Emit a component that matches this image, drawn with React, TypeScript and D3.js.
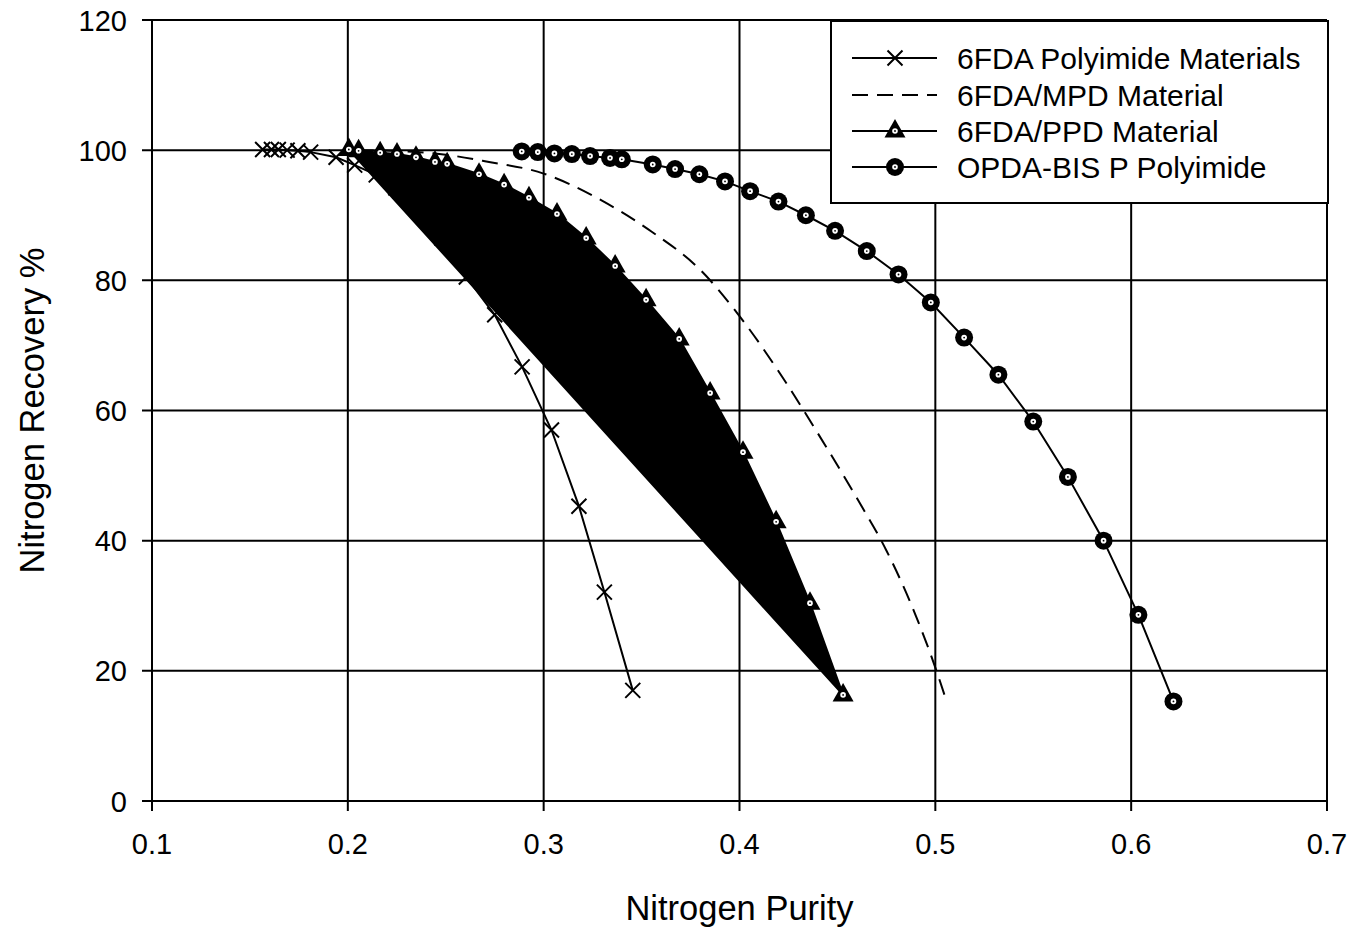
import React from 'react';
import * as d3 from 'd3';

// 6FDA Polyimide Materials (x markers)
const fdaPurity = [0.1565, 0.161, 0.1645, 0.169, 0.1745, 0.181, 0.194, 0.2035, 0.2145, 0.2245, 0.236, 0.248, 0.2605, 0.275, 0.289, 0.304, 0.318, 0.331, 0.3455];
const fdaRecovery = [100.1, 100.1, 100.1, 100, 99.9, 99.7, 98.9, 97.7, 96.2, 94.2, 91, 86.5, 80.5, 74.7, 66.7, 57, 45.3, 32.1, 17];

// 6FDA/MPD Material (dashed, no markers)
const mpdPurity = [0.205, 0.23, 0.25, 0.27, 0.3, 0.33, 0.355, 0.38, 0.4, 0.42, 0.44, 0.46, 0.475, 0.49, 0.5, 0.505];
const mpdRecovery = [100, 99.8, 99.3, 98.3, 96.4, 92.2, 87.5, 81.6, 74.5, 66, 56.5, 46.5, 38.5, 28.5, 20.5, 16];

// 6FDA/PPD Material (triangles, filled)
const ppdPurity = [0.2005, 0.2055, 0.2165, 0.2251, 0.2348, 0.2445, 0.2507, 0.267, 0.2798, 0.2925, 0.3068, 0.3217, 0.3365, 0.3523, 0.3692, 0.385, 0.4018, 0.4187, 0.436, 0.4529];
const ppdRecovery = [100.1, 99.9, 99.6, 99.4, 98.9, 98.2, 97.9, 96.3, 94.7, 92.7, 90.2, 86.5, 82.2, 77, 71, 62.7, 53.6, 42.9, 30.4, 16.3];

// OPDA-BIS P Polyimide (circles)
const opdaPurity = [0.2888, 0.297, 0.3055, 0.3144, 0.3237, 0.3339, 0.3399, 0.3557, 0.3671, 0.3795, 0.3926, 0.4054, 0.4199, 0.4339, 0.4488, 0.465, 0.4812, 0.4977, 0.5147, 0.5322, 0.55, 0.5677, 0.5859, 0.6037, 0.6216];
const opdaRecovery = [99.8, 99.7, 99.5, 99.4, 99.1, 98.8, 98.6, 97.8, 97.1, 96.3, 95.2, 93.7, 92.1, 90, 87.6, 84.5, 80.9, 76.6, 71.2, 65.5, 58.3, 49.8, 40, 28.6, 15.3];

const xTicks = [0.1, 0.2, 0.3, 0.4, 0.5, 0.6, 0.7];
const yTicks = [0, 20, 40, 60, 80, 100, 120];
const legendNames = ['6FDA Polyimide Materials', '6FDA/MPD Material', '6FDA/PPD Material', 'OPDA-BIS P Polyimide'];

const FONT = 'Arial, "Liberation Sans", Helvetica, sans-serif';

const zip = (xs: number[], ys: number[]) => xs.map((x, i) => [x, ys[i]] as [number, number]);

const XMark = ({ x, y }: { x: number; y: number }) => (
  <path d={`M${x - 7.5},${y - 7.5}L${x + 7.5},${y + 7.5}M${x - 7.5},${y + 7.5}L${x + 7.5},${y - 7.5}`} stroke="#000" strokeWidth={2} />
);

const TriMark = ({ x, y }: { x: number; y: number }) => (
  <g>
    <path d={`M${x},${y - 12}L${x + 10.5},${y + 6.5}L${x - 10.5},${y + 6.5}Z`} fill="#000" />
    <circle cx={x} cy={y} r={2.8} fill="#fff" />
    <circle cx={x} cy={y} r={0.9} fill="#000" />
  </g>
);

const CircMark = ({ x, y }: { x: number; y: number }) => (
  <g>
    <circle cx={x} cy={y} r={9} fill="#000" />
    <circle cx={x} cy={y} r={2.8} fill="#fff" />
    <circle cx={x} cy={y} r={0.9} fill="#000" />
  </g>
);

export default function App() {
  const width = 1352;
  const height = 928;
  const x = d3.scaleLinear().domain([0.1, 0.7]).range([152, 1327]);
  const y = d3.scaleLinear().domain([0, 120]).range([801, 20]);

  const straight = d3.line<[number, number]>().x(d => x(d[0])).y(d => y(d[1]));
  const smooth = d3.line<[number, number]>().x(d => x(d[0])).y(d => y(d[1])).curve(d3.curveMonotoneX);

  const fda = zip(fdaPurity, fdaRecovery);
  const mpd = zip(mpdPurity, mpdRecovery);
  const ppd = zip(ppdPurity, ppdRecovery);
  const opda = zip(opdaPurity, opdaRecovery);

  const lx0 = 852, lx1 = 937, lmx = 895, ltx = 957;
  const rows = [58, 95, 131, 167];

  return (
    <svg width={width} height={height} style={{ position: 'absolute', left: 0, top: 0, background: '#fff' }} fontFamily={FONT}>
      <rect x={0} y={0} width={width} height={height} fill="#fff" />

      {/* grid */}
      {xTicks.map(t => (
        <line key={'gx' + t} x1={x(t)} x2={x(t)} y1={y(120)} y2={y(0) + 10} stroke="#000" strokeWidth={2} />
      ))}
      {yTicks.map(t => (
        <line key={'gy' + t} x1={x(0.1) - 10} x2={x(0.7)} y1={y(t)} y2={y(t)} stroke="#000" strokeWidth={2} />
      ))}

      {/* tick labels */}
      {xTicks.map(t => (
        <text key={'tx' + t} x={x(t)} y={y(0) + 53} textAnchor="middle" fontSize={29} fill="#000">
          {d3.format('.1f')(t)}
        </text>
      ))}
      {yTicks.map(t => (
        <text key={'ty' + t} x={127} y={y(t) + 10.5} textAnchor="end" fontSize={29} fill="#000">
          {t}
        </text>
      ))}

      {/* axis titles */}
      <text x={(x(0.1) + x(0.7)) / 2} y={920} textAnchor="middle" fontSize={34.5} fill="#000">Nitrogen Purity</text>
      <text transform={`translate(44, ${(y(0) + y(120)) / 2}) rotate(-90)`} textAnchor="middle" fontSize={34.5} fill="#000">
        Nitrogen Recovery %
      </text>

      {/* 6FDA Polyimide Materials */}
      <path d={straight(fda) || ''} fill="none" stroke="#000" strokeWidth={2} />
      {fda.map((d, i) => <XMark key={'f' + i} x={x(d[0])} y={y(d[1])} />)}

      {/* 6FDA/MPD Material */}
      <path d={smooth(mpd) || ''} fill="none" stroke="#000" strokeWidth={2} strokeDasharray="16,9" />

      {/* 6FDA/PPD Material */}
      <path d={(straight(ppd) || '') + 'Z'} fill="#000" stroke="#000" strokeWidth={2} />
      {ppd.map((d, i) => <TriMark key={'p' + i} x={x(d[0])} y={y(d[1])} />)}

      {/* OPDA-BIS P Polyimide */}
      <path d={straight(opda) || ''} fill="none" stroke="#000" strokeWidth={2} />
      {opda.map((d, i) => <CircMark key={'o' + i} x={x(d[0])} y={y(d[1])} />)}

      {/* legend */}
      <rect x={831} y={21} width={497} height={182} fill="#fff" stroke="#000" strokeWidth={2} />
      {legendNames.map((name, i) => (
        <g key={name}>
          <line x1={lx0} x2={lx1} y1={rows[i]} y2={rows[i]} stroke="#000" strokeWidth={2} strokeDasharray={i === 1 ? '16,9' : undefined} />
          {i === 0 && <XMark x={lmx} y={rows[i]} />}
          {i === 2 && <TriMark x={lmx} y={rows[i]} />}
          {i === 3 && <CircMark x={lmx} y={rows[i]} />}
          <text x={ltx} y={rows[i] + 10.5} fontSize={30} fill="#000">{name}</text>
        </g>
      ))}
    </svg>
  );
}
